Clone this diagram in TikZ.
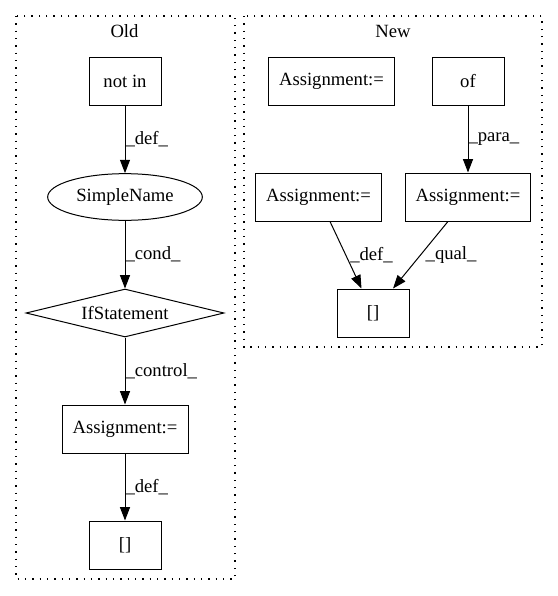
\documentclass[tikz,border=0pt]{standalone}
\usepackage{fontspec}
\setmainfont{Liberation Serif}
\usetikzlibrary{shapes.geometric,arrows.meta}
\begin{document}
\begin{tikzpicture}[x=0.75pt,y=-0.75pt,
  every node/.style={font=\fontsize{14}{16}\selectfont},
  box/.style={draw,rectangle,inner sep=0pt,minimum height=36pt,line width=0.75pt},
  cluster/.style={draw,dash pattern=on 0.9pt off 4.6pt,line width=0.9pt},
  edge/.style={-{Triangle[length=10pt,width=7.5pt]},line width=0.75pt},
  lbl/.style={anchor=west,inner sep=0pt}
]
\useasboundingbox (0,0) rectangle (557,596);

% clusters
\draw[cluster] (16,16) rectangle (235,579);
\draw[cluster] (244,16) rectangle (542,347);
\node (oldlbl) at (124.5,31) {Old};
\node (newlbl) at (393,31) {New};

% Old
\node[box,minimum width=54pt] (notin) at (125,81) {not in};
\node[draw,ellipse,inner sep=0pt,minimum width=116pt,minimum height=35pt,line width=0.75pt] (sn) at (125,197) {SimpleName};
\node[draw,diamond,shape aspect=4.2,inner sep=0pt,minimum width=148.5pt,minimum height=36pt,line width=0.75pt] (ifs) at (125,313) {IfStatement};
\node[box,minimum width=94.5pt] (asgo) at (125,429) {Assignment:=};
\node[box,minimum width=54pt] (bro) at (125,545) {[]};

\draw[edge] (notin) -- node[lbl,pos=0.5]{\_def\_} (sn);
\draw[edge] (sn) -- node[lbl,pos=0.5]{\_cond\_} (ifs);
\draw[edge] (ifs) -- node[lbl,pos=0.5]{\_control\_} (asgo);
\draw[edge] (asgo) -- node[lbl,pos=0.5]{\_def\_} (bro);

% New
\node[box,minimum width=94pt] (asgn1) at (331.5,81) {Assignment:=};
\node[box,minimum width=54pt] (of) at (468,81) {of};
\node[box,minimum width=94pt] (asgn2) at (318.5,197) {Assignment:=};
\node[box,minimum width=94pt] (asgn3) at (468,197) {Assignment:=};
\node[box,minimum width=54pt] (brn) at (373,313) {[]};

\draw[edge] (of) -- node[lbl,pos=0.5]{\_para\_} (asgn3);
\draw[edge] (asgn2) -- node[lbl,pos=0.5,xshift=3pt]{\_def\_} (brn);
\draw[edge] (asgn3) -- node[lbl,pos=0.5,xshift=3.5pt]{\_qual\_} (brn);
\end{tikzpicture}
\end{document}
